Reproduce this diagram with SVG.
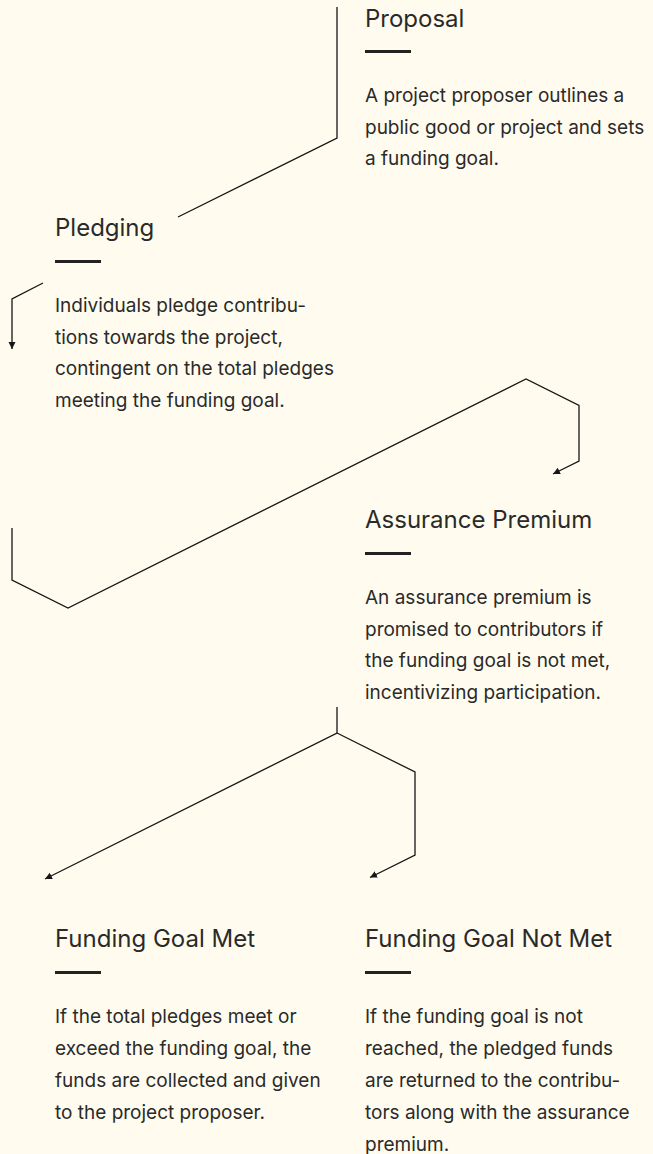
<svg xmlns="http://www.w3.org/2000/svg" width="653" height="1154" viewBox="0 0 653 1154">
<defs>
<style>
.bg{fill:#FFFCEF}
.t{font-family:Inter,"Liberation Sans",sans-serif;font-size:24px;fill:#2a2a2a}
.b{font-family:Inter,"Liberation Sans",sans-serif;font-size:19px;fill:#2a2a2a}
.u{fill:#222}
.c{fill:none;stroke:#161616;stroke-width:1.3;stroke-linejoin:miter}
</style>
<marker id="ah" markerUnits="userSpaceOnUse" markerWidth="9" markerHeight="9" refX="7" refY="3.5" orient="auto">
<path d="M0,0 L7,3.5 L0,7 z" fill="#161616"/>
</marker>
</defs>
<rect class="bg" x="0" y="0" width="653" height="1154"/>
<g id="connectors">
<path class="c" d="M337,7 V138 L178,217"/>
<path class="c" d="M43,283 L12,299 V349" marker-end="url(#ah)"/>
<path class="c" d="M12,528 V580 L68,608 L526,379 L579,405.5 V461 L553,474" marker-end="url(#ah)"/>
<path class="c" d="M337,707 V733 L45,879" marker-end="url(#ah)"/>
<path class="c" d="M337,733 L415,772 V855 L370,877.5" marker-end="url(#ah)"/>
</g>
<g id="proposal">
<text class="t" x="365" y="27">Proposal</text>
<rect class="u" x="365" y="50" width="46" height="3"/>
<text class="b" x="365" y="102">A project proposer outlines a</text>
<text class="b" x="365" y="133.5">public good or project and sets</text>
<text class="b" x="365" y="165">a funding goal.</text>
</g>
<g id="pledging">
<text class="t" x="55" y="236">Pledging</text>
<rect class="u" x="55" y="260" width="46" height="3"/>
<text class="b" x="55" y="312">Individuals pledge contribu-</text>
<text class="b" x="55" y="343.5">tions towards the project,</text>
<text class="b" x="55" y="375">contingent on the total pledges</text>
<text class="b" x="55" y="406.5">meeting the funding goal.</text>
</g>
<g id="assurance">
<text class="t" x="365" y="528">Assurance Premium</text>
<rect class="u" x="365" y="552" width="46" height="3"/>
<text class="b" x="365" y="604">An assurance premium is</text>
<text class="b" x="365" y="635.5">promised to contributors if</text>
<text class="b" x="365" y="667">the funding goal is not met,</text>
<text class="b" x="365" y="698.5">incentivizing participation.</text>
</g>
<g id="met">
<text class="t" x="55" y="947">Funding Goal Met</text>
<rect class="u" x="55" y="971" width="46" height="3"/>
<text class="b" x="55" y="1023">If the total pledges meet or</text>
<text class="b" x="55" y="1055">exceed the funding goal, the</text>
<text class="b" x="55" y="1087">funds are collected and given</text>
<text class="b" x="55" y="1119">to the project proposer.</text>
</g>
<g id="notmet">
<text class="t" x="365" y="947">Funding Goal Not Met</text>
<rect class="u" x="365" y="971" width="46" height="3"/>
<text class="b" x="365" y="1023">If the funding goal is not</text>
<text class="b" x="365" y="1055">reached, the pledged funds</text>
<text class="b" x="365" y="1087">are returned to the contribu-</text>
<text class="b" x="365" y="1119">tors along with the assurance</text>
<text class="b" x="365" y="1151">premium.</text>
</g>
</svg>
